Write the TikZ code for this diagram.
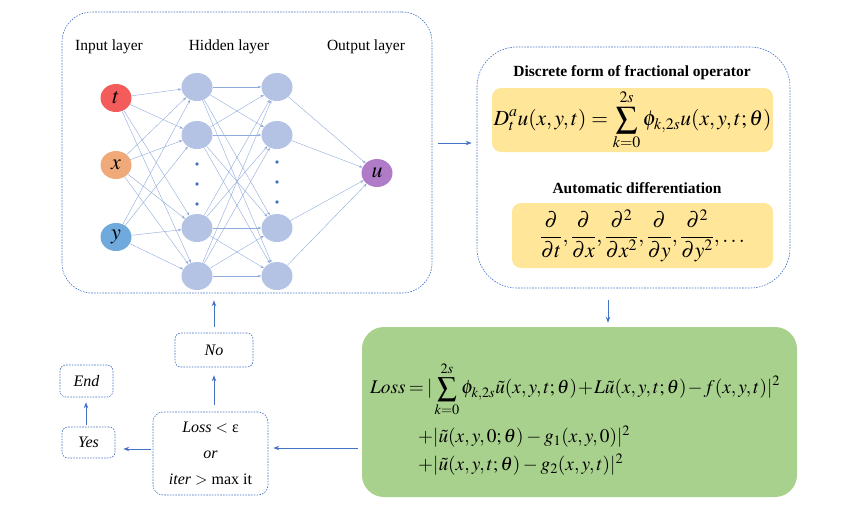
\documentclass[tikz,border=0pt]{standalone}
\usepackage{mathptmx}
\usepackage[no-math]{fontspec}
\setmainfont{Liberation Serif}
\usetikzlibrary{arrows.meta,shapes.geometric}
\definecolor{lineblue}{HTML}{4472C4}
\definecolor{edgeblue}{HTML}{8FAADC}
\definecolor{hidfill}{HTML}{B4C2E4}
\definecolor{tfill}{HTML}{F45B5B}
\definecolor{xfill}{HTML}{F0AA7A}
\definecolor{yfill}{HTML}{70A9DC}
\definecolor{ufill}{HTML}{B07CC8}
\definecolor{yellowbox}{HTML}{FFE699}
\definecolor{greenbox}{HTML}{A9D18E}
\newcommand\lyrfont{\fontsize{15.5pt}{18pt}\selectfont}
\newcommand\eqfont{\fontsize{21.5pt}{24pt}\selectfont}
\newcommand\lossfont{\fontsize{19.3pt}{24pt}\selectfont}
\newcommand\boxfont{\fontsize{16pt}{26pt}\selectfont}
\tikzset{
  neuron/.style={ellipse, inner sep=0pt, minimum width=31pt, minimum height=28pt, fill=hidfill},
  frame/.style={draw=lineblue, dash pattern=on 1.6pt off 1.2pt, line width=0.6pt},
  ybox/.style={fill=yellowbox, rounded corners=9pt, inner sep=0pt},
  flow/.style={-{Stealth[length=6pt,width=4.5pt]}, draw=lineblue, line width=0.9pt},
  link/.style={-{Stealth[length=3.5pt,width=2.5pt]}, draw=edgeblue, line width=0.4pt}
}

\begin{document}
\begin{tikzpicture}[x=1pt,y=-1pt]
	\useasboundingbox (0,0) rectangle (852,525);
	
	% network
	\node[frame, rounded corners=30pt, minimum width=370pt, minimum height=281pt] (net) at (247,152.5) {};
	\node at (109,47) {\lyrfont Input layer};
	\node at (229,47) {\lyrfont Hidden layer};
	\node at (366,47) {\lyrfont Output layer};
	
	\node[neuron, fill=tfill] (nt) at (116,98) {\fontsize{22pt}{24pt}\selectfont$t$};
	\node[neuron, fill=xfill] (nx) at (116,165) {\fontsize{22pt}{24pt}\selectfont$x$};
	\node[neuron, fill=yfill] (ny) at (116,237) {\fontsize{22pt}{24pt}\selectfont$y$};
	\foreach \j/\yy in {1/87,2/135,3/228,4/276} {
		\node[neuron] (ha\j) at (197,\yy) {};
		\node[neuron] (hb\j) at (277,\yy) {};
	}
	\node[neuron, fill=ufill] (nu) at (377,173) {\fontsize{22pt}{24pt}\selectfont$u$};
	\foreach \yy in {164,184,204} {
		\fill[lineblue] (197,\yy) circle (1.8pt);
		\fill[lineblue] (277,\yy-2) circle (1.8pt);
	}
	\foreach \i in {t,x,y}
		\foreach \j in {1,...,4}
			\draw[link] (n\i) -- (ha\j);
	\foreach \i in {1,...,4}
		\foreach \j in {1,...,4}
			\draw[link] (ha\i) -- (hb\j);
	\foreach \i in {1,...,4}
		\draw[link] (hb\i) -- (nu);
	
	% operator box
	\node[frame, rounded corners=40pt, minimum width=313pt, minimum height=241pt] (opbox) at (633.5,167.5) {};
	\node at (632,73) {\lyrfont\bfseries Discrete form of fractional operator};
	\node[ybox, minimum width=281pt, minimum height=64pt] (frac) at (632.5,120)
		{\eqfont$\displaystyle D_t^{a}u(x,y,t)=\sum_{k=0}^{2s}\phi_{k,2s}u(x,y,t;\theta)$};
	\node at (637,188) {\lyrfont\bfseries Automatic differentiation};
	\node[ybox, minimum width=261pt, minimum height=65pt] (diff) at (642.5,235.5)
		{\eqfont$\displaystyle \frac{\partial}{\partial t},\frac{\partial}{\partial x},\frac{\partial^2}{\partial x^2},\frac{\partial}{\partial y},\frac{\partial^2}{\partial y^2},\ldots$};
	
	% loss
	\node[fill=greenbox, rounded corners=22pt, minimum width=435pt, minimum height=170pt] (lossbox) at (579.5,412) {};
	\node[anchor=west, inner sep=0pt] (loss1) at (370,389)
		{\lossfont\medmuskip=1mu\thickmuskip=3mu$\displaystyle \mathit{Loss}=|\sum_{k=0}^{2s}\phi_{k,2s}\tilde{u}(x,y,t;\theta)+L\tilde{u}(x,y,t;\theta)-f(x,y,t)|^2$};
	\node[anchor=west, inner sep=0pt] (loss2) at (418,437)
		{\lossfont$+|\tilde{u}(x,y,0;\theta)-g_1(x,y,0)|^2$};
	\node[anchor=west, inner sep=0pt] (loss3) at (418,465)
		{\lossfont$+|\tilde{u}(x,y,t;\theta)-g_2(x,y,t)|^2$};
	
	% stopping check
	\node[frame, rounded corners=10pt, minimum width=115pt, minimum height=83pt, align=center, font=\boxfont] (check) at (210.5,453.5)
		{\itshape Loss \upshape$<$ ε\\ \itshape or\\ \itshape iter \upshape$>$ max it};
	\node[frame, rounded corners=6pt, minimum width=78pt, minimum height=34pt] (no) at (214,350) {\boxfont\itshape No};
	\node[frame, rounded corners=6pt, minimum width=53pt, minimum height=31pt] (yes) at (88.5,442.5) {\boxfont\itshape Yes};
	\node[frame, rounded corners=6pt, minimum width=53pt, minimum height=32pt] (end) at (86.5,381) {\boxfont\itshape End};
	
	% arrows
	\draw[flow, shorten <=6pt, shorten >=5pt] ([yshift=9.5pt]net.east) -- ([yshift=9.5pt]net.east -| opbox.west);
	\draw[flow, shorten <=12pt, shorten >=4pt] ([xshift=-25.5pt]opbox.south) -- ([xshift=-25.5pt]opbox.south |- lossbox.north);
	\draw[flow, shorten <=4pt, shorten >=5pt] ([yshift=5.5pt]lossbox.west |- check.east) -- ([yshift=5.5pt]check.east);
	\draw[flow, shorten <=2pt, shorten >=8pt] ([yshift=4.5pt]check.west) -- ([yshift=4.5pt]check.west -| yes.east);
	\draw[flow, shorten <=2pt, shorten >=5pt] ([xshift=-2.5pt]yes.north) -- ([xshift=-2.5pt]yes.north |- end.south);
	\draw[flow, shorten <=7pt, shorten >=8pt] (check.north -| no) -- (no.south);
	\draw[flow, shorten <=6pt, shorten >=7pt] (no.north) -- (no.north |- net.south);
\end{tikzpicture}
\end{document}
